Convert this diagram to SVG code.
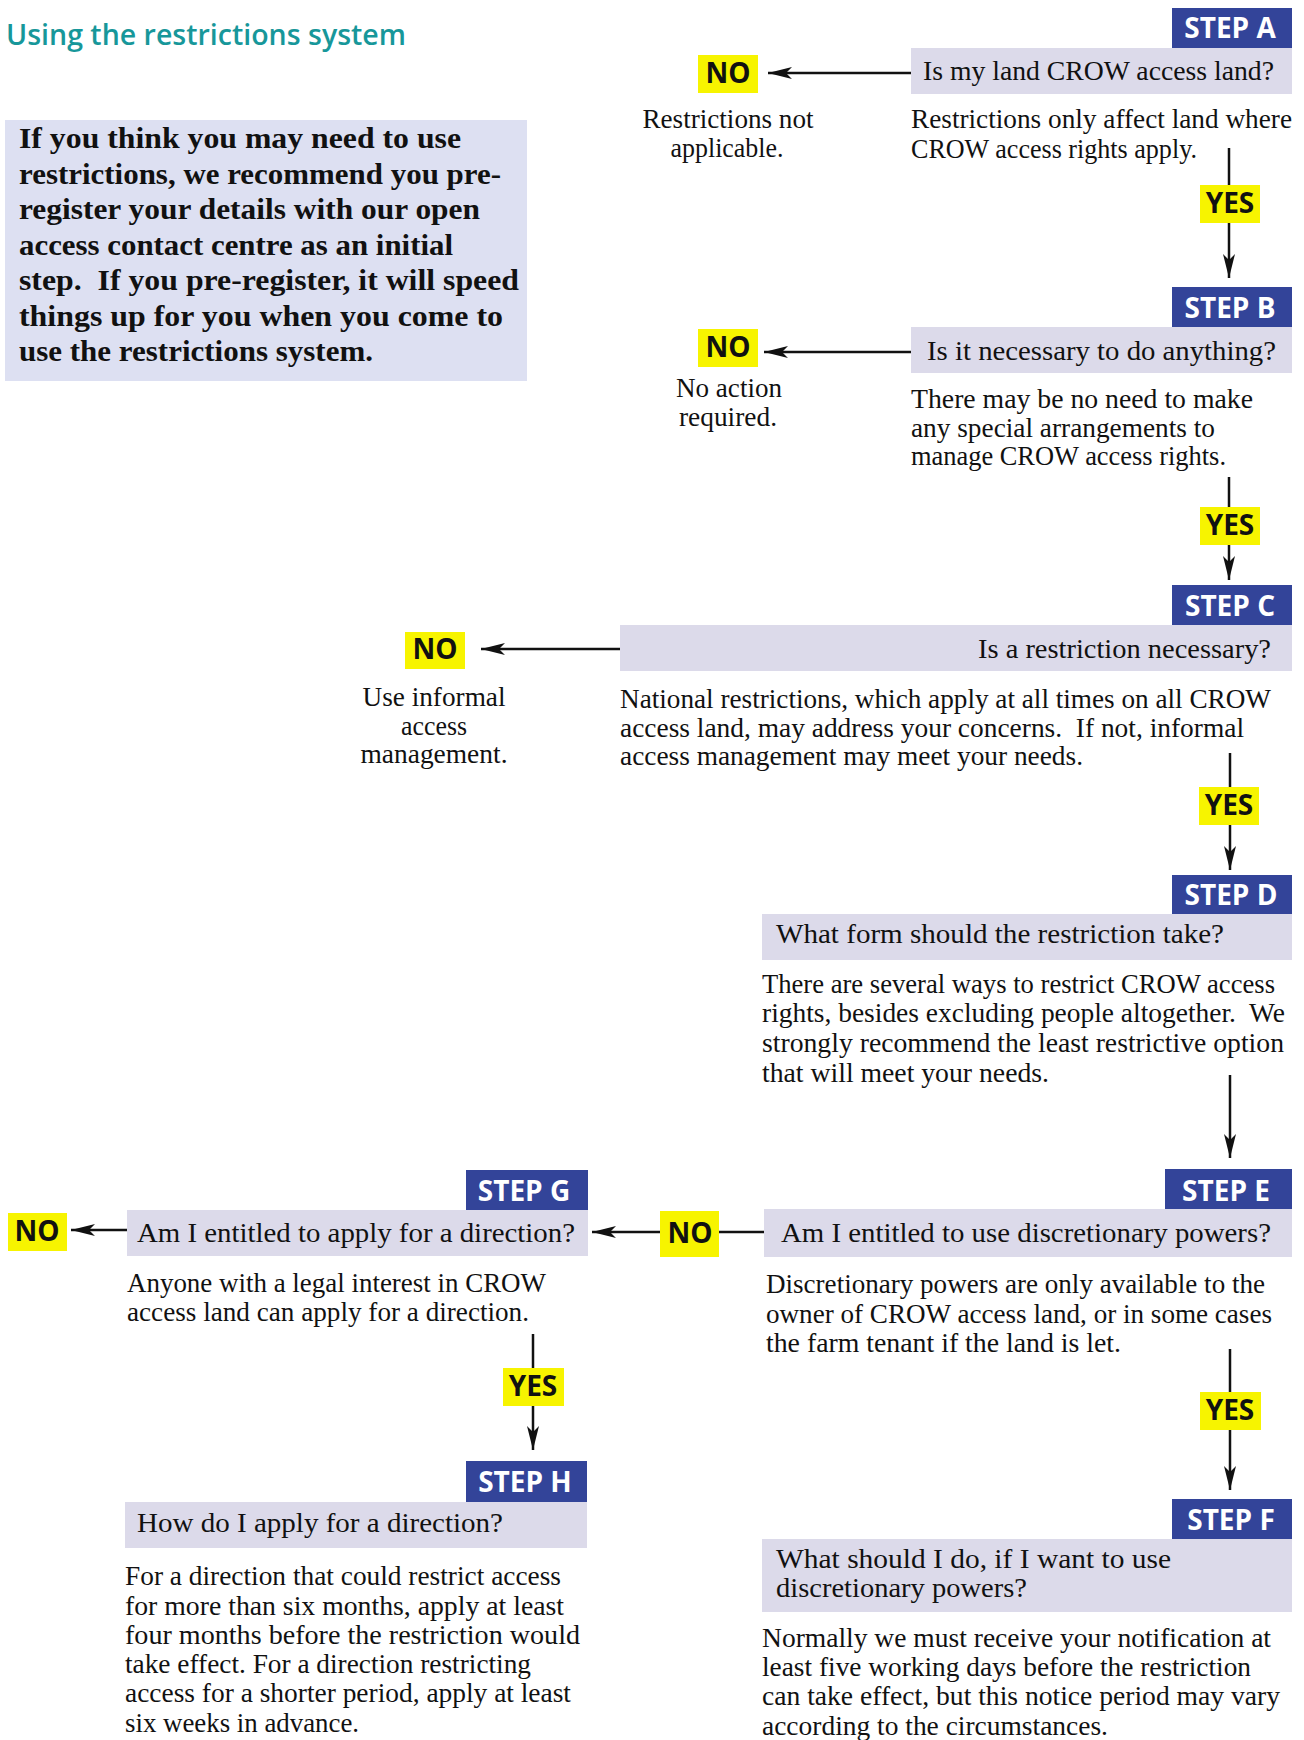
<svg xmlns="http://www.w3.org/2000/svg" width="1304" height="1740" viewBox="0 0 1304 1740">
<style>
.title{font-family:"Open Sans","Liberation Sans",sans-serif;font-weight:600;font-size:28px;fill:#17979a}
.intro{fill:#dde0f2}
.introtxt{font-family:"Liberation Serif",serif;font-weight:bold;font-size:29px;fill:#111}
.step{fill:#334499}
.steptxt{font-family:"Open Sans","Liberation Sans",sans-serif;font-weight:700;font-size:28px;fill:#fff;text-anchor:middle}
.q{fill:#dcdaea}
.qtxt{font-family:"Liberation Serif",serif;font-size:28px;fill:#111}
.body{font-family:"Liberation Serif",serif;font-size:27px;fill:#111}
.mid{text-anchor:middle}
.yl{fill:#f7f400}
.yltxt{font-family:"Open Sans","Liberation Sans",sans-serif;font-weight:700;font-size:28px;fill:#111;text-anchor:middle}
.ln{stroke:#111;stroke-width:2.5;fill:none}
.arr{marker-end:url(#ah)}
</style>
<defs>
<marker id="ah" markerUnits="userSpaceOnUse" markerWidth="26" markerHeight="14" refX="24" refY="7" orient="auto">
<path d="M0,1 L24,7 L0,13 L6,7 Z" fill="#111"/>
</marker>
</defs>

<text class="title" x="6" y="45" textLength="400" lengthAdjust="spacingAndGlyphs">Using the restrictions system</text>

<g id="intro">
<rect class="intro" x="5" y="120" width="522" height="261"/>
<text class="introtxt" x="19" y="148" textLength="442" lengthAdjust="spacingAndGlyphs">If you think you may need to use</text>
<text class="introtxt" x="19" y="183.5" textLength="482" lengthAdjust="spacingAndGlyphs">restrictions, we recommend you pre-</text>
<text class="introtxt" x="19" y="219" textLength="461" lengthAdjust="spacingAndGlyphs">register your details with our open</text>
<text class="introtxt" x="19" y="254.5" textLength="434" lengthAdjust="spacingAndGlyphs">access contact centre as an initial</text>
<text class="introtxt" x="19" y="290" textLength="500" lengthAdjust="spacingAndGlyphs">step.&#160; If you pre-register, it will speed</text>
<text class="introtxt" x="19" y="325.5" textLength="484" lengthAdjust="spacingAndGlyphs">things up for you when you come to</text>
<text class="introtxt" x="19" y="361" textLength="354" lengthAdjust="spacingAndGlyphs">use the restrictions system.</text>
</g>

<g id="connectors">
<line class="ln arr" x1="911" y1="73" x2="768" y2="73"/>
<line class="ln arr" x1="1229" y1="148" x2="1229" y2="278"/>
<line class="ln arr" x1="911" y1="352" x2="764" y2="352"/>
<line class="ln arr" x1="1229" y1="477" x2="1229" y2="580"/>
<line class="ln arr" x1="620" y1="649" x2="481" y2="649"/>
<line class="ln arr" x1="1230" y1="753" x2="1230" y2="870"/>
<line class="ln arr" x1="1230" y1="1075" x2="1230" y2="1158"/>
<line class="ln" x1="764" y1="1232" x2="719" y2="1232"/>
<line class="ln arr" x1="660" y1="1232" x2="592" y2="1232"/>
<line class="ln arr" x1="127" y1="1230" x2="71" y2="1230"/>
<line class="ln arr" x1="1230" y1="1349" x2="1230" y2="1490"/>
<line class="ln arr" x1="533" y1="1334" x2="533" y2="1450"/>
<g id="yes-a"><rect class="yl" x="1200" y="185" width="60" height="38"/><text class="yltxt" x="1230" y="213">YES</text></g>
<g id="yes-b"><rect class="yl" x="1200" y="507" width="60" height="38"/><text class="yltxt" x="1230" y="535">YES</text></g>
<g id="yes-c"><rect class="yl" x="1199" y="787" width="60" height="38"/><text class="yltxt" x="1229" y="815">YES</text></g>
<g id="yes-e"><rect class="yl" x="1200" y="1392" width="61" height="38"/><text class="yltxt" x="1230" y="1420">YES</text></g>
<g id="yes-g"><rect class="yl" x="503" y="1368" width="61" height="38"/><text class="yltxt" x="533" y="1396">YES</text></g>
</g>

<g id="step-a">
<rect class="step" x="1172" y="8" width="120" height="40"/>
<text class="steptxt" x="1230" y="38">STEP A</text>
<rect class="q" x="911" y="48" width="381" height="46"/>
<text class="qtxt" x="923" y="80" textLength="351" lengthAdjust="spacingAndGlyphs">Is my land CROW access land?</text>
<text class="body" x="911" y="128" textLength="381" lengthAdjust="spacingAndGlyphs">Restrictions only affect land where</text>
<text class="body" x="911" y="158" textLength="286" lengthAdjust="spacingAndGlyphs">CROW access rights apply.</text>
</g>

<g id="no-a">
<rect class="yl" x="698" y="55" width="60" height="38"/>
<text class="yltxt" x="728" y="83">NO</text>
<text class="body mid" x="728" y="128" textLength="171" lengthAdjust="spacingAndGlyphs">Restrictions not</text>
<text class="body mid" x="727" y="157" textLength="113" lengthAdjust="spacingAndGlyphs">applicable.</text>
</g>

<g id="step-b">
<rect class="step" x="1172" y="287" width="120" height="40"/>
<text class="steptxt" x="1230" y="318">STEP B</text>
<rect class="q" x="911" y="327" width="381" height="46"/>
<text class="qtxt" x="927" y="360" textLength="349" lengthAdjust="spacingAndGlyphs">Is it necessary to do anything?</text>
<text class="body" x="911" y="408" textLength="342" lengthAdjust="spacingAndGlyphs">There may be no need to make</text>
<text class="body" x="911" y="437" textLength="304" lengthAdjust="spacingAndGlyphs">any special arrangements to</text>
<text class="body" x="911" y="465" textLength="315" lengthAdjust="spacingAndGlyphs">manage CROW access rights.</text>
</g>

<g id="no-b">
<rect class="yl" x="698" y="329" width="60" height="38"/>
<text class="yltxt" x="728" y="357">NO</text>
<text class="body mid" x="729" y="397" textLength="106" lengthAdjust="spacingAndGlyphs">No action</text>
<text class="body mid" x="728" y="426" textLength="98" lengthAdjust="spacingAndGlyphs">required.</text>
</g>

<g id="step-c">
<rect class="step" x="1172" y="585" width="120" height="40"/>
<text class="steptxt" x="1230" y="616">STEP C</text>
<rect class="q" x="620" y="625" width="672" height="46"/>
<text class="qtxt" x="978" y="658" textLength="293" lengthAdjust="spacingAndGlyphs">Is a restriction necessary?</text>
<text class="body" x="620" y="708" textLength="651" lengthAdjust="spacingAndGlyphs">National restrictions, which apply at all times on all CROW</text>
<text class="body" x="620" y="737" textLength="624" lengthAdjust="spacingAndGlyphs">access land, may address your concerns.&#160; If not, informal</text>
<text class="body" x="620" y="765" textLength="463" lengthAdjust="spacingAndGlyphs">access management may meet your needs.</text>
</g>

<g id="no-c">
<rect class="yl" x="405" y="632" width="60" height="37"/>
<text class="yltxt" x="435" y="659">NO</text>
<text class="body mid" x="434" y="706" textLength="143" lengthAdjust="spacingAndGlyphs">Use informal</text>
<text class="body mid" x="434" y="735" textLength="66" lengthAdjust="spacingAndGlyphs">access</text>
<text class="body mid" x="434" y="763" textLength="147" lengthAdjust="spacingAndGlyphs">management.</text>
</g>

<g id="step-d">
<rect class="step" x="1172" y="875" width="120" height="39"/>
<text class="steptxt" x="1231" y="905">STEP D</text>
<rect class="q" x="762" y="914" width="530" height="46"/>
<text class="qtxt" x="776" y="943" textLength="448" lengthAdjust="spacingAndGlyphs">What form should the restriction take?</text>
<text class="body" x="762" y="993" textLength="513" lengthAdjust="spacingAndGlyphs">There are several ways to restrict CROW access</text>
<text class="body" x="762" y="1022" textLength="523" lengthAdjust="spacingAndGlyphs">rights, besides excluding people altogether.&#160; We</text>
<text class="body" x="762" y="1052" textLength="522" lengthAdjust="spacingAndGlyphs">strongly recommend the least restrictive option</text>
<text class="body" x="762" y="1082" textLength="287" lengthAdjust="spacingAndGlyphs">that will meet your needs.</text>
</g>

<g id="step-e">
<rect class="step" x="1165" y="1169" width="127" height="40"/>
<text class="steptxt" x="1226" y="1201">STEP E</text>
<rect class="q" x="764" y="1209" width="528" height="48"/>
<text class="qtxt" x="781" y="1242" textLength="490" lengthAdjust="spacingAndGlyphs">Am I entitled to use discretionary powers?</text>
<text class="body" x="766" y="1293" textLength="499" lengthAdjust="spacingAndGlyphs">Discretionary powers are only available to the</text>
<text class="body" x="766" y="1323" textLength="506" lengthAdjust="spacingAndGlyphs">owner of CROW access land, or in some cases</text>
<text class="body" x="766" y="1352" textLength="355" lengthAdjust="spacingAndGlyphs">the farm tenant if the land is let.</text>
</g>

<g id="no-e">
<rect class="yl" x="660" y="1211" width="59" height="46"/>
<text class="yltxt" x="690" y="1243">NO</text>
</g>

<g id="step-f">
<rect class="step" x="1172" y="1499" width="120" height="40"/>
<text class="steptxt" x="1231" y="1530">STEP F</text>
<rect class="q" x="762" y="1539" width="530" height="73"/>
<text class="qtxt" x="776" y="1568" textLength="395" lengthAdjust="spacingAndGlyphs">What should I do, if I want to use</text>
<text class="qtxt" x="776" y="1597" textLength="251" lengthAdjust="spacingAndGlyphs">discretionary powers?</text>
<text class="body" x="762" y="1647" textLength="509" lengthAdjust="spacingAndGlyphs">Normally we must receive your notification at</text>
<text class="body" x="762" y="1676" textLength="489" lengthAdjust="spacingAndGlyphs">least five working days before the restriction</text>
<text class="body" x="762" y="1705" textLength="518" lengthAdjust="spacingAndGlyphs">can take effect, but this notice period may vary</text>
<text class="body" x="762" y="1735" textLength="346" lengthAdjust="spacingAndGlyphs">according to the circumstances.</text>
</g>

<g id="step-g">
<rect class="step" x="466" y="1170" width="122" height="40"/>
<text class="steptxt" x="524" y="1201">STEP G</text>
<rect class="q" x="127" y="1210" width="461" height="46"/>
<text class="qtxt" x="137" y="1242" textLength="438" lengthAdjust="spacingAndGlyphs">Am I entitled to apply for a direction?</text>
<text class="body" x="127" y="1292" textLength="419" lengthAdjust="spacingAndGlyphs">Anyone with a legal interest in CROW</text>
<text class="body" x="127" y="1321" textLength="402" lengthAdjust="spacingAndGlyphs">access land can apply for a direction.</text>
</g>

<g id="no-g">
<rect class="yl" x="8" y="1213" width="59" height="38"/>
<text class="yltxt" x="37" y="1241">NO</text>
</g>

<g id="step-h">
<rect class="step" x="466" y="1461" width="121" height="41"/>
<text class="steptxt" x="525" y="1492">STEP H</text>
<rect class="q" x="125" y="1502" width="462" height="46"/>
<text class="qtxt" x="137" y="1532" textLength="366" lengthAdjust="spacingAndGlyphs">How do I apply for a direction?</text>
<text class="body" x="125" y="1585" textLength="436" lengthAdjust="spacingAndGlyphs">For a direction that could restrict access</text>
<text class="body" x="125" y="1615" textLength="439" lengthAdjust="spacingAndGlyphs">for more than six months, apply at least</text>
<text class="body" x="125" y="1644" textLength="455" lengthAdjust="spacingAndGlyphs">four months before the restriction would</text>
<text class="body" x="125" y="1673" textLength="406" lengthAdjust="spacingAndGlyphs">take effect. For a direction restricting</text>
<text class="body" x="125" y="1702" textLength="446" lengthAdjust="spacingAndGlyphs">access for a shorter period, apply at least</text>
<text class="body" x="125" y="1732" textLength="234" lengthAdjust="spacingAndGlyphs">six weeks in advance.</text>
</g>
</svg>
